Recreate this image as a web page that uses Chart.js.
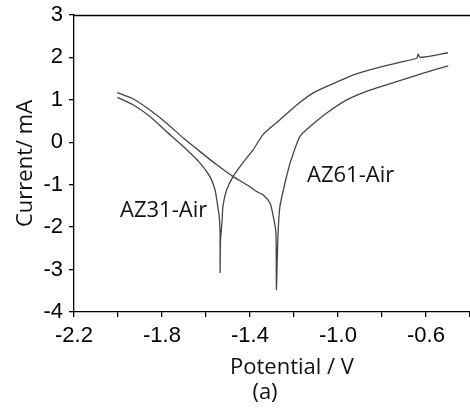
<!DOCTYPE html>
<html>
<head>
<meta charset="utf-8">
<script src="https://cdn.jsdelivr.net/npm/chart.js@4"></script>
<style>
  html, body { margin: 0; padding: 0; background: #fff; }
  #wrap { width: 470px; height: 409px; }
</style>
</head>
<body>
<div id="wrap"><canvas id="tafelChart"></canvas></div>
<script>
// AZ31-Air polarisation curve (potential V, current mA)
const az31V = [-2.003, -1.930, -1.855, -1.779, -1.703, -1.627, -1.582, -1.559, -1.551, -1.540, -1.536, -1.536,
  -1.534, -1.527, -1.523, -1.506, -1.477, -1.432, -1.386, -1.341, -1.264, -1.188, -1.114, -1.036, -0.923,
  -0.809, -0.705, -0.642, -0.636, -0.627, -0.500];
const az31I = [1.06, 0.88, 0.61, 0.25, -0.10, -0.49, -0.81, -1.12, -1.36, -1.75, -2.13, -3.07,
  -2.30, -1.87, -1.51, -1.12, -0.81, -0.48, -0.18, 0.18, 0.53, 0.88, 1.16, 1.35, 1.60,
  1.77, 1.90, 1.98, 2.08, 2.00, 2.11];

// AZ61-Air polarisation curve
const az61V = [-2.003, -1.930, -1.855, -1.779, -1.703, -1.627, -1.551, -1.476, -1.415, -1.370, -1.340, -1.309,
  -1.294, -1.282, -1.280, -1.275, -1.271, -1.264, -1.241, -1.218, -1.203, -1.195, -1.173, -1.127, -1.051,
  -0.960, -0.855, -0.733, -0.612, -0.499];
const az61I = [1.17, 1.02, 0.76, 0.45, 0.10, -0.22, -0.53, -0.81, -1.00, -1.16, -1.24, -1.43,
  -1.75, -2.14, -3.47, -2.53, -1.98, -1.51, -0.96, -0.49, -0.26, -0.14, 0.14, 0.37, 0.69,
  1.00, 1.23, 1.43, 1.63, 1.80];

const xMin = -2.2, xMax = -0.4, xStep = 0.2;
const yMin = -4, yMax = 3;
const xTitle = 'Potential / V';
const yTitle = 'Current/ mA';
const panelTag = '(a)';
const seriesLabels = ['AZ31-Air', 'AZ61-Air'];

const toPoints = (xs, ys) => xs.map((v, i) => ({ x: v, y: ys[i] }));

const lineStyle = {
  borderColor: '#454545',
  borderWidth: 1.3,
  pointRadius: 0,
  tension: 0.2,
  fill: false,
  showLine: true
};

// titles, panel tag, curve labels and the top frame line
const decorations = {
  id: 'decorations',
  afterDraw(chart) {
    const { ctx, chartArea } = chart;
    ctx.save();
    ctx.strokeStyle = '#000';
    ctx.lineWidth = 1.3;
    ctx.beginPath();
    ctx.moveTo(chartArea.left, chartArea.top + 0.5);
    ctx.lineTo(chartArea.right, chartArea.top + 0.5);
    ctx.stroke();

    ctx.fillStyle = '#111';
    ctx.font = '22px "Open Sans"';
    ctx.textBaseline = 'alphabetic';
    ctx.textAlign = 'left';
    ctx.fillText(seriesLabels[0], 120, 217);
    ctx.fillText(seriesLabels[1], 307, 182);

    ctx.textAlign = 'center';
    ctx.fillText(xTitle, 292, 374);
    ctx.fillText(panelTag, 265, 399);

    ctx.translate(32, (chartArea.top + chartArea.bottom) / 2);
    ctx.rotate(-Math.PI / 2);
    ctx.fillText(yTitle, 0, 0);
    ctx.restore();
  }
};

new Chart(document.getElementById('tafelChart'), {
  type: 'scatter',
  data: {
    datasets: [
      { label: seriesLabels[0], data: toPoints(az31V, az31I), ...lineStyle },
      { label: seriesLabels[1], data: toPoints(az61V, az61I), ...lineStyle }
    ]
  },
  options: {
    responsive: true, maintainAspectRatio: false, animation: false,
    layout: { padding: { top: 15, right: 0, left: 0, bottom: 0 } },
    plugins: { legend: { display: false }, tooltip: { enabled: false } },
    scales: {
      x: {
        type: 'linear', min: xMin, max: xMax,
        afterFit: s => { s.height = 97; s.paddingRight = 0; s.paddingLeft = 0; },
        grid: { drawOnChartArea: false, color: '#000', tickLength: 5, lineWidth: 1.3 },
        border: { color: '#000', width: 1.3 },
        ticks: {
          stepSize: xStep, autoSkip: false, maxRotation: 0, padding: 6, color: '#000',
          font: { family: '"Liberation Sans", Arial', size: 22 },
          callback: (v, i) => (i % 2 === 0 && i < 9 ? Number(v).toFixed(1) : '')
        }
      },
      y: {
        min: yMin, max: yMax,
        afterFit: s => { s.width = 74; s.paddingTop = 0; s.paddingBottom = 0; },
        grid: { drawOnChartArea: false, color: '#000', tickLength: 5, lineWidth: 1.3 },
        border: { color: '#000', width: 1.3 },
        ticks: {
          stepSize: 1, padding: 6, color: '#000',
          font: { family: '"Liberation Sans", Arial', size: 22 }
        }
      }
    }
  },
  plugins: [decorations]
});
</script>
</body>
</html>
